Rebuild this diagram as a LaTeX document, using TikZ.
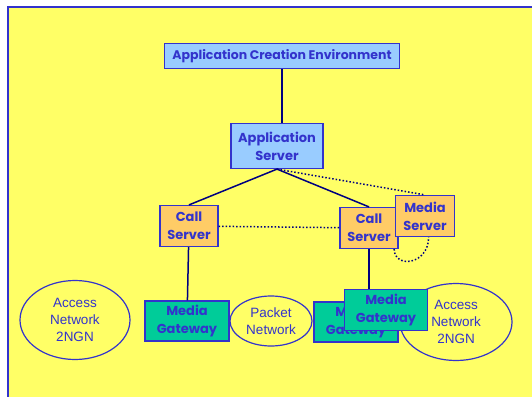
\documentclass[tikz,border=0pt]{standalone}
\usepackage{fontspec}
\setmainfont{Liberation Sans}
\newfontfamily\boxfont{Poppins}
\usetikzlibrary{shapes.geometric}
\definecolor{bgyellow}{HTML}{FFFF66}
\definecolor{edgeblue}{HTML}{3333CC}
\definecolor{linenavy}{HTML}{000080}
\definecolor{lightblue}{HTML}{99CCFF}
\definecolor{srvorange}{HTML}{FFCC66}
\definecolor{gwgreen}{HTML}{00CC99}

\begin{document}
\begin{tikzpicture}[x=1pt, y=-1pt,
    box/.style={draw=edgeblue, line width=1.2pt, text=edgeblue, align=center,
        inner sep=0pt, font=\boxfont\bfseries\fontsize{13}{18}\selectfont},
    appbox/.style={box, fill=lightblue},
    srvbox/.style={box, fill=srvorange, minimum width=58pt, minimum height=41pt},
    gwbox/.style={box, fill=gwgreen, minimum width=84pt, minimum height=40pt},
    net/.style={ellipse, draw=edgeblue, line width=1.2pt, text=edgeblue, align=center,
        inner sep=0pt, font=\fontsize{13.5}{17}\selectfont},
    wire/.style={draw=linenavy, line width=1.5pt},
    dotwire/.style={draw=linenavy, line width=1.5pt, dotted}]
    \useasboundingbox (0,0) rectangle (532,396);
    \fill[white] (0,0) rectangle (532,396);
    \draw[fill=bgyellow, draw=edgeblue, line width=1.5pt] (8,7) rectangle (545,410);

    % boxes
    \node[appbox, minimum width=235pt, minimum height=25pt,
        font=\boxfont\bfseries\fontsize{12.5}{15}\selectfont] (ace) at (282,56) {Application Creation Environment};
    \node[appbox, minimum width=92pt, minimum height=45pt] (as) at (277,146) {Application\\Server};
    \node[srvbox] (cs1) at (189,226) {Call\\Server};
    \node[srvbox] (cs2) at (369,228) {Call\\Server};
    \node[srvbox, minimum width=59pt] (ms) at (425,216) {Media\\Server};

    % networks
    \node[net, minimum width=110pt, minimum height=79pt] (an1) at (75,320) {Access\\Network\\2NGN};
    \node[net, minimum width=82pt, minimum height=50pt] (pn) at (271,321) {Packet\\Network};
    \node[net, minimum width=112pt, minimum height=77pt] (an2) at (456,322) {Access\\Network\\2NGN};

    \node[gwbox] (mg1) at (187,321) {Media\\Gateway};
    \node[gwbox] (mg2) at (356,322) {Media\\Gateway};
    \node[gwbox, minimum width=83pt, minimum height=41pt] (mg3) at (386,310) {Media\\Gateway};

    % links
    \draw[wire] (ace) -- (ace |- as.north);
    \draw[wire] (as.south) -- (cs1.north);
    \draw[wire] (as.south) -- (cs2.north);
    \draw[dotwire] (as.south) -- (ms.north);
    \draw[dotwire] (cs1) -- (cs2);
    \draw[wire] (cs1) -- (mg1);
    \draw[wire] (cs2.south) -- (mg3.north -| cs2.south);
    \draw[dotwire] (cs2.-40) .. controls (394,268) and (428,266) .. (ms.-80);
\end{tikzpicture}
\end{document}
